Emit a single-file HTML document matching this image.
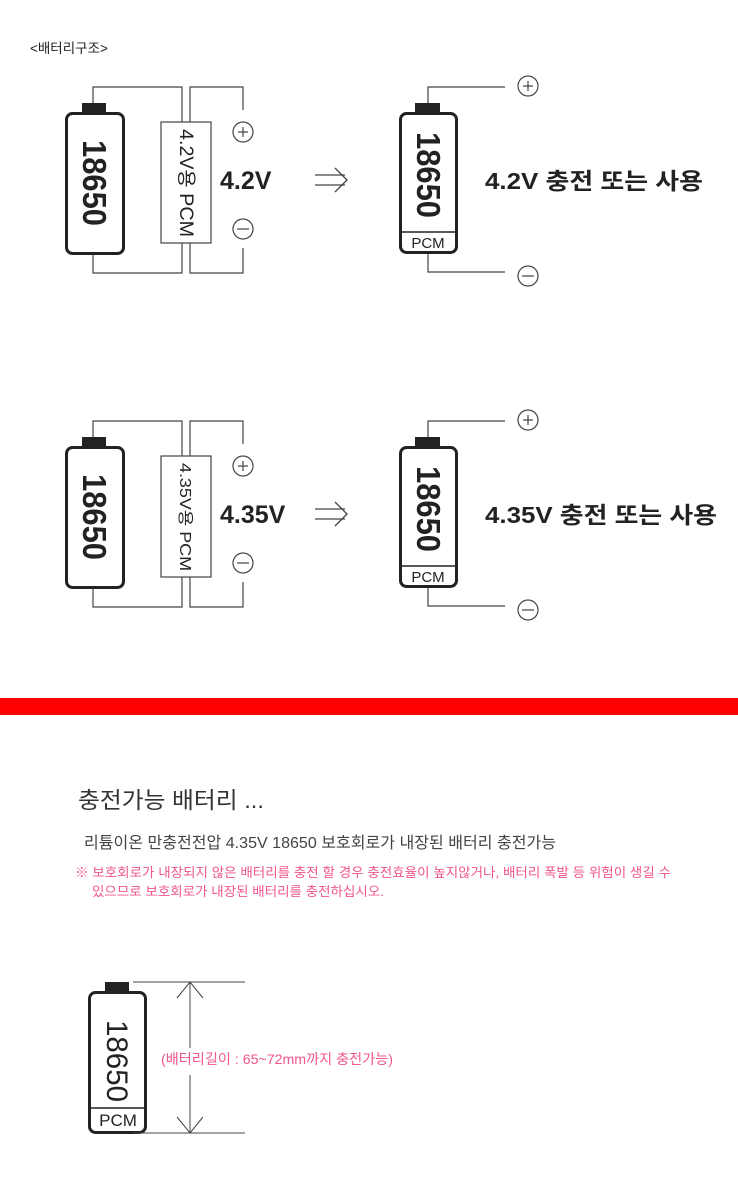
<!DOCTYPE html>
<html><head><meta charset="utf-8"><style>
body{margin:0;background:#fff;}
svg{display:block;font-family:"Liberation Sans","Noto Sans CJK KR",sans-serif;}
</style></head><body>
<svg width="738" height="1191" viewBox="0 0 738 1191" xmlns="http://www.w3.org/2000/svg">
<defs>
<g id="arrow" fill="none" stroke="#444" stroke-width="1.3">
 <line x1="315" y1="175" x2="345" y2="175"/>
 <line x1="315" y1="185" x2="345" y2="185"/>
 <polyline points="335,168 347,180 335,192"/>
</g>
</defs>
<text x="30" y="53" font-size="13.5" fill="#222">&lt;배터리구조&gt;</text>

<g id="d1">
 <g fill="none" stroke="#444" stroke-width="1.2">
  <polyline points="93,113 93,87 182,87 182,122"/>
  <polyline points="190,122 190,87 243,87 243,110"/>
  <polyline points="243,248 243,273 190,273 190,243"/>
  <polyline points="182,243 182,273 93,273 93,254"/>
  <rect x="161" y="122" width="50" height="121" fill="#fff"/>
  <circle cx="243" cy="132" r="10"/><line x1="238" y1="132" x2="248" y2="132"/><line x1="243" y1="127" x2="243" y2="137"/>
  <circle cx="243" cy="229" r="10"/><line x1="237" y1="229" x2="249" y2="229"/>
  <polyline points="428,103 428,87 505,87"/>
  <polyline points="428,253 428,272 505,272"/>
  <circle cx="528" cy="86" r="10"/><line x1="523" y1="86" x2="533" y2="86"/><line x1="528" y1="81" x2="528" y2="91"/>
  <circle cx="528" cy="276" r="10"/><line x1="522" y1="276" x2="534" y2="276"/>
 </g>
 <rect x="82" y="103" width="24" height="11" fill="#222"/>
 <rect x="66.5" y="113.5" width="57" height="140" rx="6" fill="#fff" stroke="#222" stroke-width="3"/>
 <text transform="translate(83,183) rotate(90)" text-anchor="middle" font-size="33" font-weight="bold" fill="#222" textLength="86" lengthAdjust="spacingAndGlyphs">18650</text>
 <text transform="translate(180,183) rotate(90)" text-anchor="middle" font-size="19" fill="#222" textLength="108" lengthAdjust="spacingAndGlyphs">4.2V용 PCM</text>
 <text x="220" y="189" font-size="25" font-weight="bold" fill="#222">4.2V</text>
 <use href="#arrow"/>
 <rect x="415" y="103" width="25" height="11" fill="#222"/>
 <rect x="400.5" y="113.5" width="56" height="139" rx="6" fill="#fff" stroke="#222" stroke-width="3"/>
 <line x1="400" y1="232" x2="457" y2="232" stroke="#222" stroke-width="1.5"/>
 <text x="428" y="248" text-anchor="middle" font-size="15" fill="#222">PCM</text>
 <text transform="translate(417,175) rotate(90)" text-anchor="middle" font-size="33" font-weight="bold" fill="#222" textLength="86" lengthAdjust="spacingAndGlyphs">18650</text>
 <text x="485" y="189" font-size="23" font-weight="bold" fill="#222" textLength="218" lengthAdjust="spacingAndGlyphs">4.2V 충전 또는 사용</text>
</g>

<g transform="translate(0,334)">
 <g fill="none" stroke="#444" stroke-width="1.2">
  <polyline points="93,113 93,87 182,87 182,122"/>
  <polyline points="190,122 190,87 243,87 243,110"/>
  <polyline points="243,248 243,273 190,273 190,243"/>
  <polyline points="182,243 182,273 93,273 93,254"/>
  <rect x="161" y="122" width="50" height="121" fill="#fff"/>
  <circle cx="243" cy="132" r="10"/><line x1="238" y1="132" x2="248" y2="132"/><line x1="243" y1="127" x2="243" y2="137"/>
  <circle cx="243" cy="229" r="10"/><line x1="237" y1="229" x2="249" y2="229"/>
  <polyline points="428,103 428,87 505,87"/>
  <polyline points="428,253 428,272 505,272"/>
  <circle cx="528" cy="86" r="10"/><line x1="523" y1="86" x2="533" y2="86"/><line x1="528" y1="81" x2="528" y2="91"/>
  <circle cx="528" cy="276" r="10"/><line x1="522" y1="276" x2="534" y2="276"/>
 </g>
 <rect x="82" y="103" width="24" height="11" fill="#222"/>
 <rect x="66.5" y="113.5" width="57" height="140" rx="6" fill="#fff" stroke="#222" stroke-width="3"/>
 <text transform="translate(83,183) rotate(90)" text-anchor="middle" font-size="33" font-weight="bold" fill="#222" textLength="86" lengthAdjust="spacingAndGlyphs">18650</text>
 <text transform="translate(180,183) rotate(90)" text-anchor="middle" font-size="16" fill="#222" textLength="108" lengthAdjust="spacingAndGlyphs">4.35V용 PCM</text>
 <text x="220" y="189" font-size="25" font-weight="bold" fill="#222">4.35V</text>
 <use href="#arrow"/>
 <rect x="415" y="103" width="25" height="11" fill="#222"/>
 <rect x="400.5" y="113.5" width="56" height="139" rx="6" fill="#fff" stroke="#222" stroke-width="3"/>
 <line x1="400" y1="232" x2="457" y2="232" stroke="#222" stroke-width="1.5"/>
 <text x="428" y="248" text-anchor="middle" font-size="15" fill="#222">PCM</text>
 <text transform="translate(417,175) rotate(90)" text-anchor="middle" font-size="33" font-weight="bold" fill="#222" textLength="86" lengthAdjust="spacingAndGlyphs">18650</text>
 <text x="485" y="189" font-size="23" font-weight="bold" fill="#222" textLength="232" lengthAdjust="spacingAndGlyphs">4.35V 충전 또는 사용</text>
</g>

<rect x="0" y="698" width="738" height="17" fill="#ff0000"/>

<text x="78" y="808" font-size="23" fill="#333" textLength="186" lengthAdjust="spacingAndGlyphs">충전가능 배터리 ...</text>
<text x="84" y="848" font-size="16" fill="#444" textLength="472" lengthAdjust="spacingAndGlyphs">리튬이온 만충전전압 4.35V 18650 보호회로가 내장된 배터리 충전가능</text>
<text x="75" y="877" font-size="13" fill="#f0558f" textLength="596" lengthAdjust="spacingAndGlyphs">※ 보호회로가 내장되지 않은 배터리를 충전 할 경우 충전효율이 높지않거나, 배터리 폭발 등 위험이 생길 수</text>
<text x="92" y="896" font-size="13" fill="#f0558f" textLength="292" lengthAdjust="spacingAndGlyphs">있으므로 보호회로가 내장된 배터리를 충전하십시오.</text>

<rect x="105" y="982" width="24" height="11" fill="#222"/>
<rect x="89.5" y="992.5" width="56" height="140" rx="6" fill="#fff" stroke="#222" stroke-width="3"/>
<line x1="90" y1="1108" x2="146" y2="1108" stroke="#222" stroke-width="1.5"/>
<text x="118" y="1126" text-anchor="middle" font-size="17" fill="#222">PCM</text>
<text transform="translate(107,1061) rotate(90)" text-anchor="middle" font-size="30" fill="#222" textLength="82" lengthAdjust="spacingAndGlyphs">18650</text>
<g fill="none" stroke="#444" stroke-width="1">
 <line x1="133" y1="982" x2="245" y2="982"/>
 <line x1="133" y1="1133" x2="245" y2="1133"/>
 <line x1="190" y1="982" x2="190" y2="1048"/>
 <line x1="190" y1="1075" x2="190" y2="1133"/>
 <polyline points="177,998 190,982 203,998"/>
 <polyline points="177,1117 190,1133 203,1117"/>
</g>
<text x="161" y="1064" font-size="14" fill="#f0558f" textLength="232" lengthAdjust="spacingAndGlyphs">(배터리길이 : 65~72mm까지 충전가능)</text>
</svg>
</body></html>
